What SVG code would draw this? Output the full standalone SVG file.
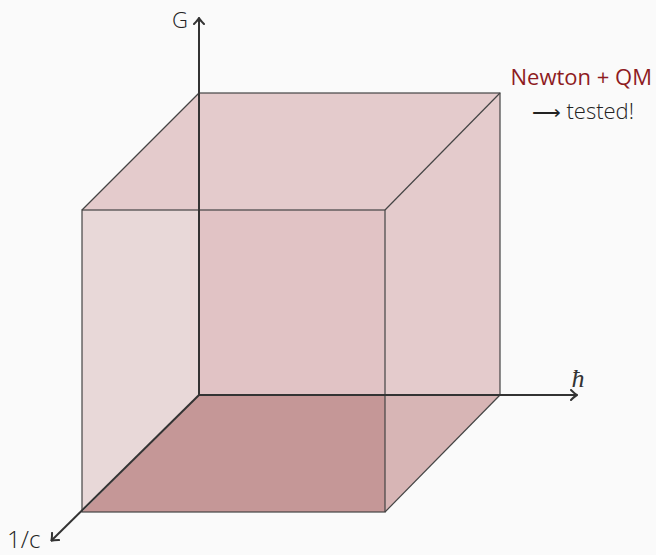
<svg xmlns="http://www.w3.org/2000/svg" width="656" height="555" viewBox="0 0 656 555">
<style>
.edge{fill:none;stroke:#444;stroke-width:1.2}
.axis{fill:none;stroke:#333;stroke-width:2}
.lbl{font-family:"Open Sans","Noto Sans",sans-serif;font-weight:300;font-size:22px;fill:#222}
.red{fill:#8e1c1f;font-weight:400}
</style>
<defs>
<marker id="arr" viewBox="-6 -6 8 12" markerWidth="8" markerHeight="12" refX="0" refY="0" orient="auto" markerUnits="userSpaceOnUse">
<path d="M-5,-5 Q-1,-1 1,0 Q-1,1 -5,5" fill="none" stroke="#333" stroke-width="2" stroke-linecap="round"/>
</marker>
</defs>
<rect width="656" height="555" fill="#fafafa"/>
<g id="cube">
<polygon points="82,210 199,93 500,93 385,210" fill="#e4cbcc"/>
<polygon points="385,210 500,93 500,395 385,395" fill="#e4cbcc"/>
<polygon points="385,395 500,395 385,512" fill="#d7b5b5"/>
<polygon points="82,210 199,210 199,395 82,512" fill="#e8d8d8"/>
<polygon points="199,210 385,210 385,395 199,395" fill="#e1c3c5"/>
<polygon points="82,512 199,395 385,395 385,512" fill="#c59797"/>
<g class="edge">
<rect x="82" y="210" width="303" height="302"/>
<rect x="199" y="93" width="301" height="302"/>
<line x1="82" y1="210" x2="199" y2="93"/>
<line x1="385" y1="210" x2="500" y2="93"/>
<line x1="385" y1="512" x2="500" y2="395"/>
</g>
</g>
<g id="axes">
<line class="axis" x1="199" y1="395" x2="199" y2="19" marker-end="url(#arr)"/>
<line class="axis" x1="199" y1="395" x2="576" y2="395" marker-end="url(#arr)"/>
<line class="axis" x1="199" y1="395" x2="52" y2="540" marker-end="url(#arr)"/>
</g>
<g id="labels">
<text class="lbl" x="188" y="28" text-anchor="end">G</text>
<text class="lbl" x="578" y="387" text-anchor="middle" style="font-style:italic;font-size:26px;font-weight:400;font-family:'Liberation Serif',serif;fill:#333">ħ</text>
<text class="lbl" x="7" y="548" style="font-size:24px">1/c</text>
<text class="lbl red" x="652" y="85" text-anchor="end">Newton + QM</text>
<text class="lbl" x="634" y="119" text-anchor="end"><tspan style="font-family:'DejaVu Sans',sans-serif;font-size:20px">⟶</tspan> tested!</text>
</g>
</svg>
